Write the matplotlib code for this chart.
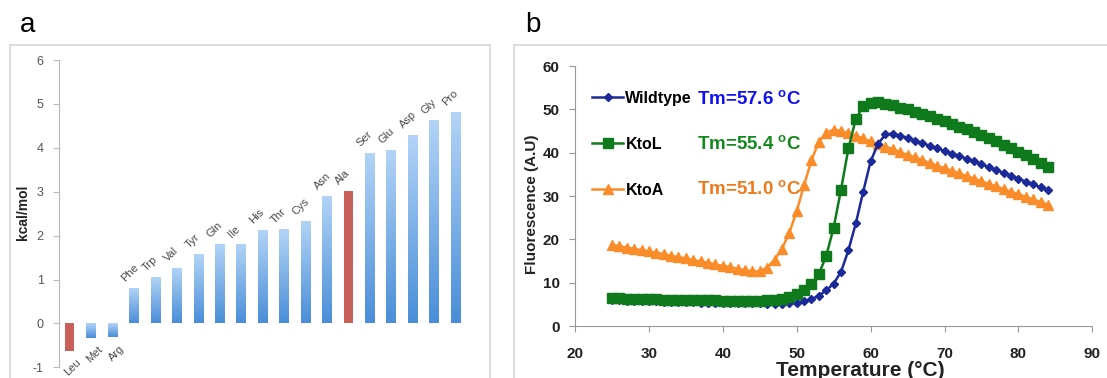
import numpy as np
import matplotlib
matplotlib.use("Agg")
import matplotlib.pyplot as plt
from matplotlib.colors import LinearSegmentedColormap
from matplotlib.patches import Rectangle

plt.rcParams['font.family'] = ['Liberation Sans', 'DejaVu Sans']
plt.rcParams['mathtext.fontset'] = 'custom'
plt.rcParams['mathtext.rm'] = 'Liberation Sans'
plt.rcParams['mathtext.bf'] = 'Liberation Sans:bold'
plt.rcParams['axes.unicode_minus'] = False

# panel a: helix propensity (kcal/mol)
residues = ['Leu', 'Met', 'Arg', 'Phe', 'Trp', 'Val', 'Tyr', 'Gln', 'Ile', 'His',
            'Thr', 'Cys', 'Asn', 'Ala', 'Ser', 'Glu', 'Asp', 'Gly', 'Pro']
energy = [-0.62, -0.33, -0.30, 0.80, 1.05, 1.27, 1.57, 1.82, 1.82, 2.13,
          2.14, 2.33, 2.90, 3.01, 3.88, 3.95, 4.30, 4.63, 4.82]
highlight = ['Leu', 'Ala']

# panel b: thermal melt curves
temperature = list(range(25, 85))
wildtype = [5.9, 5.9, 5.8, 5.8, 5.8, 5.7, 5.7, 5.6, 5.6, 5.6, 5.5, 5.5, 5.4, 5.4, 5.4,
            5.3, 5.3, 5.3, 5.2, 5.2, 5.2, 5.1, 5.1, 5.1, 5.2, 5.4, 5.7, 6.2, 7.0, 8.2,
            9.8, 12.5, 17.5, 23.7, 31.0, 38.0, 42.0, 44.2, 44.4, 43.9, 43.4, 42.8, 42.2, 41.6, 41.0,
            40.4, 39.8, 39.2, 38.6, 38.0, 37.3, 36.7, 36.0, 35.3, 34.7, 34.0, 33.3, 32.7, 32.0, 31.3]
ktol = [6.4, 6.4, 6.3, 6.3, 6.3, 6.2, 6.2, 6.1, 6.1, 6.0, 6.0, 6.0, 5.9, 5.9, 5.9,
        5.8, 5.8, 5.8, 5.8, 5.8, 5.8, 5.9, 6.0, 6.2, 6.7, 7.5, 8.4, 9.6, 12.0, 16.2,
        22.7, 31.5, 41.0, 47.8, 50.7, 51.5, 51.6, 51.3, 50.9, 50.4, 50.0, 49.5, 49.0, 48.4, 47.8,
        47.2, 46.6, 46.0, 45.4, 44.8, 44.1, 43.4, 42.6, 41.8, 41.0, 40.2, 39.4, 38.5, 37.6, 36.7]
ktoa = [18.7, 18.4, 18.1, 17.8, 17.5, 17.2, 16.9, 16.6, 16.2, 15.9, 15.6, 15.2, 14.9, 14.6, 14.2,
        13.9, 13.6, 13.2, 12.9, 12.6, 12.6, 13.5, 15.3, 17.8, 21.5, 26.5, 32.5, 38.3, 42.5, 44.6,
        45.3, 45.0, 44.5, 43.9, 43.3, 42.6, 42.0, 41.4, 40.8, 40.1, 39.5, 38.9, 38.3, 37.6, 37.0,
        36.4, 35.8, 35.2, 34.6, 34.0, 33.4, 32.8, 32.2, 31.6, 31.0, 30.4, 29.8, 29.2, 28.6, 28.0]
tm_labels = ['Tm=57.6 $^\\mathbf{o}$C', 'Tm=55.4 $^\\mathbf{o}$C', 'Tm=51.0 $^\\mathbf{o}$C']

W, H = 1107, 378
fig = plt.figure(figsize=(W / 100, H / 100), dpi=100)

# panel frames
fig.add_artist(Rectangle((10 / W, -0.05), 480 / W, 1.05 - 45 / H, transform=fig.transFigure,
                         fill=False, edgecolor='#d6d6d6', lw=1.2))
fig.add_artist(Rectangle((514 / W, -0.05), 0.6, 1.05 - 45 / H, transform=fig.transFigure,
                         fill=False, edgecolor='#d6d6d6', lw=1.2))
fig.text(20 / W, 1 - 25 / H, 'a', fontsize=20, va='center', ha='left')
fig.text(525 / W, 1 - 25 / H, 'b', fontsize=20, va='center', ha='left')

# ---- panel a ----
ax1 = fig.add_axes([59 / W, 1 - 367.3 / H, 407 / W, 307.3 / H])
blue_cmap = LinearSegmentedColormap.from_list('bar', ['#4a8ed8', '#b3d4f7'])
x = np.arange(len(residues))
bw = 0.42
bars = ax1.bar(x, energy, width=bw, color='none', edgecolor='none')
grad = np.linspace(0, 1, 128).reshape(-1, 1)
for xi, v, name, b in zip(x, energy, residues, bars):
    if name in highlight:
        b.set_facecolor('#c9605a')
    else:
        im = ax1.imshow(grad, extent=[xi - bw / 2, xi + bw / 2, min(0, v), max(0, v)],
                        aspect='auto', cmap=blue_cmap, origin='lower', zorder=2)
        im.set_clip_path(b)
    if v >= 0:
        ax1.text(xi - 0.35, v + 0.1, name, rotation=45, rotation_mode='anchor',
                 ha='left', va='bottom', fontsize=8, color='#4a4a4a')
    else:
        ax1.text(xi + 0.3, v - 0.15, name, rotation=45, rotation_mode='anchor',
                 ha='right', va='top', fontsize=8, color='#4a4a4a')

ax1.set_xlim(-0.49, 18.5)
ax1.set_ylim(-1, 6)
ax1.set_yticks(range(-1, 7))
ax1.set_xticks([])
for s in ['top', 'right', 'bottom']:
    ax1.spines[s].set_visible(False)
ax1.spines['left'].set_color('#b8b8b8')
ax1.tick_params(axis='y', colors='#b8b8b8', labelcolor='#555555', labelsize=9,
                length=4, pad=7)
ax1.set_ylabel('kcal/mol', fontsize=10, fontweight='bold', color='#222222')
ax1.yaxis.set_label_coords((23 - 59) / 407, (367.3 - 212) / 307.3)
ax1.yaxis.label.set_va('center')
ax1.patch.set_alpha(0)

# ---- panel b ----
ax2 = fig.add_axes([575 / W, 1 - 326 / H, 517.3 / W, 260 / H])
l3, = ax2.plot(temperature, ktoa, color='#fb8c2a', lw=1.8, marker='^', ms=6.5,
               label='KtoA', zorder=2)
l1, = ax2.plot(temperature, wildtype, color='#1b2a98', lw=1.8, marker='D', ms=4.5,
               label='Wildtype', zorder=3)
l2, = ax2.plot(temperature, ktol, color='#0f7a1c', lw=1.8, marker='s', ms=7,
               label='KtoL', zorder=4)
ax2.legend(handles=[l1, l2, l3], loc='upper left', bbox_to_anchor=(0.032, 0.905),
           frameon=False, numpoints=1, borderpad=0, borderaxespad=0, handlelength=2.0,
           handletextpad=0.12, labelspacing=1.95, prop={'weight': 'bold', 'size': 11.5})

tm_colors = ['#1010f0', '#138a1c', '#ef7a1c']
tm_y = [51.1, 40.5, 30.3]
for lab, c, ty in zip(tm_labels, tm_colors, tm_y):
    ax2.text(36.5, ty, lab, color=c, fontsize=13.5, fontweight='bold', va='baseline', ha='left')

ax2.set_xlim(20, 90)
ax2.set_ylim(0, 60)
ax2.set_xticks(range(20, 91, 10))
ax2.set_yticks(range(0, 61, 10))
for s in ['top', 'right']:
    ax2.spines[s].set_visible(False)
for s in ['left', 'bottom']:
    ax2.spines[s].set_color('#999999')
ax2.tick_params(colors='#999999', labelcolor='#222222', length=4, labelsize=11)
ax2.tick_params(axis='x', pad=11)
ax2.tick_params(axis='y', pad=7)
for t in ax2.get_xticklabels() + ax2.get_yticklabels():
    t.set_fontweight('bold')
ax2.set_xlabel('Temperature (°C)', fontsize=15, fontweight='bold', color='#222222')
ax2.xaxis.set_label_coords(0.551, -0.192)
ax2.xaxis.label.set_va('baseline')
ax2.set_ylabel('Fluorescence (A.U)', fontsize=11, fontweight='bold', color='#222222')
ax2.yaxis.set_label_coords(-0.083, 0.469)
ax2.yaxis.label.set_va('center')

fig.savefig('out.png', dpi=100)
